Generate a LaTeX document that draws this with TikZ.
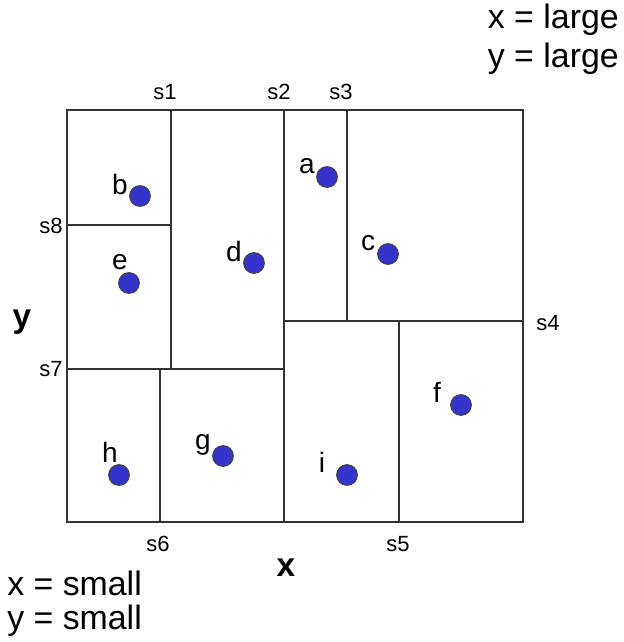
\documentclass[tikz,border=0pt]{standalone}
\usepackage{fontspec}
\setmainfont{Liberation Sans}
\definecolor{dotblue}{RGB}{52,52,204}
\begin{document}
\begin{tikzpicture}[
        x=0.75pt, y=-0.75pt,
        split/.style={draw=black!80, line width=1.1pt},
        point/.style={draw=black!75, fill=dotblue, circle, minimum size=15.5pt, inner sep=0pt, line width=0.8pt},
        ptlabel/.style={font=\fontsize{21}{23}\selectfont, inner sep=0pt},
        splabel/.style={font=\fontsize{16.5}{18}\selectfont, inner sep=0pt},
        axlabel/.style={font=\fontsize{25}{27}\selectfont\bfseries, inner sep=0pt},
        corner/.style={font=\fontsize{25.4}{28}\selectfont, inner sep=0pt},
    ]
        \useasboundingbox (0,0) rectangle (624,642);

        % Outer box
        \coordinate (nw) at (67,110);
        \coordinate (se) at (523,522);
        \draw[split] (nw) rectangle (se);

        % Splits
        \draw[split] (171,110) -- (171,369);
        \draw[split] (284,110) -- (284,522);
        \draw[split] (67,225) -- (171,225);
        \draw[split] (67,369) -- (284,369);
        \draw[split] (160,369) -- (160,522);
        \draw[split] (347,110) -- (347,321);
        \draw[split] (284,321) -- (523,321);
        \draw[split] (399,321) -- (399,522);

        % Split names
        \node[splabel] (s1) at (165,92) {s1};
        \node[splabel] (s2) at (279,92) {s2};
        \node[splabel] (s3) at (341,92) {s3};
        \node[splabel] (s4) at (548,323) {s4};
        \node[splabel] (s5) at (398,544) {s5};
        \node[splabel] (s6) at (158,544) {s6};
        \node[splabel] (s7) at (51,369) {s7};
        \node[splabel] (s8) at (51,226) {s8};

        % Points
        \node[point] (a) at (327,177) {};
        \node[point] (b) at (140,196) {};
        \node[point] (c) at (388,254) {};
        \node[point] (d) at (254,263) {};
        \node[point] (e) at (129,283) {};
        \node[point] (f) at (461,405) {};
        \node[point] (g) at (223,456) {};
        \node[point] (h) at (119,475) {};
        \node[point] (i) at (347,475) {};

        \node[ptlabel] (la) at (307,166) {a};
        \node[ptlabel] (lb) at (120,184) {b};
        \node[ptlabel] (lc) at (368,243) {c};
        \node[ptlabel] (ld) at (234,251) {d};
        \node[ptlabel] (le) at (120,262) {e};
        \node[ptlabel] (lf) at (437,392) {f};
        \node[ptlabel] (lg) at (203,445) {g};
        \node[ptlabel] (lh) at (110,452) {h};
        \node[ptlabel] (li) at (322,462) {i};

        % Axes and corners
        \node[axlabel] (ylab) at (22,322) {y};
        \node[axlabel] (xlab) at (286,568) {x};
        \node[corner, anchor=east] (xlarge) at (619,20) {x = large};
        \node[corner, anchor=east] (ylarge) at (619,59) {y = large};
        \node[corner, anchor=west] (xsmall) at (7,583) {x = small};
        \node[corner, anchor=west] (ysmall) at (7,621) {y = small};
    \end{tikzpicture}
\end{document}
